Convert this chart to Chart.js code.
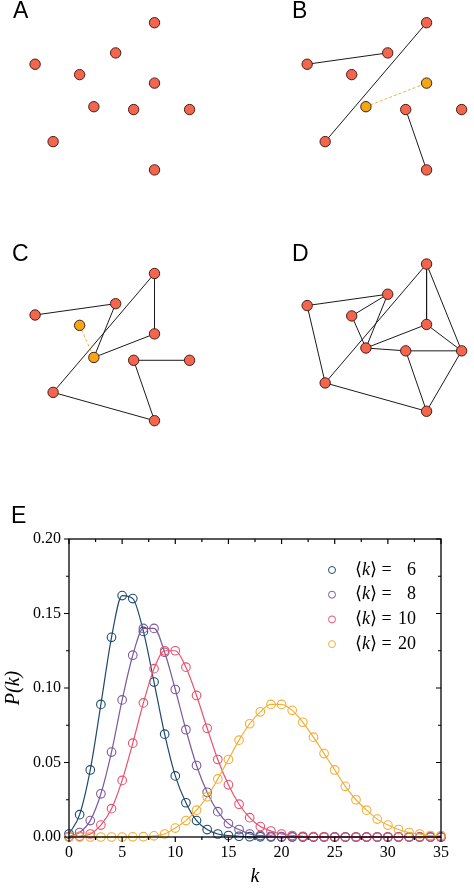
<!DOCTYPE html>
<html>
<head>
    <meta charset="utf-8">
    <script src="https://cdn.jsdelivr.net/npm/chart.js@4.4.0/dist/chart.umd.min.js"></script>
    <style>
        body { margin: 0; background: #fff; }
        #wrap { position: relative; width: 474px; height: 891px; overflow: hidden; }
        #wrap canvas { position: absolute; }
        .letter {
            position: absolute;
            font-family: "Liberation Sans", Arial, sans-serif;
            font-size: 23px;
            line-height: 23px;
            color: #000;
        }
    </style>
</head>
<body>
    <div id="wrap">
        <canvas id="netA" width="237" height="220" style="left:0;top:0"></canvas>
        <canvas id="netB" width="237" height="220" style="left:237px;top:0"></canvas>
        <canvas id="netC" width="237" height="220" style="left:0;top:230px"></canvas>
        <canvas id="netD" width="237" height="220" style="left:237px;top:230px"></canvas>
        <canvas id="dist" width="474" height="391" style="left:0;top:500px"></canvas>
        <div class="letter" style="left:13px;top:-1px">A</div>
        <div class="letter" style="left:292px;top:-1px">B</div>
        <div class="letter" style="left:12px;top:242px">C</div>
        <div class="letter" style="left:292px;top:242px">D</div>
        <div class="letter" style="left:11px;top:504px">E</div>
    </div>
    <script>
        // node layout (same for all four networks)
        const nodeX = [126, 85, 0, 47, 126, 62, 104, 163, 19, 126];
        const nodeY = [0, 32, 44, 55, 64, 89, 92, 92, 126, 156];

        const edgesB = [[2, 1], [0, 8], [6, 9]];
        const newEdgeB = [[5, 4]];
        const hotB = [4, 5];

        const edgesC = [[2, 1], [1, 5], [0, 4], [0, 8], [4, 5], [6, 7], [6, 9], [8, 9]];
        const newEdgeC = [[3, 5]];
        const hotC = [3, 5];

        const edgesD = [[2, 1], [2, 8], [3, 1], [3, 5], [1, 5], [0, 8], [0, 4], [0, 7],
                        [4, 5], [4, 7], [5, 6], [6, 7], [6, 9], [7, 9], [8, 9]];

        // degree distribution
        const kValues = [];
        for (let k = 0; k <= 35; k++) kValues.push(k);
        const p6 = [0.002, 0.015, 0.045, 0.089, 0.134, 0.162, 0.160, 0.138, 0.104, 0.069,
                    0.041, 0.023, 0.011, 0.005, 0.002, 0.001, 0.0005, 0.0002, 0.0001, 0,
                    0, 0, 0, 0, 0, 0, 0, 0, 0, 0, 0, 0, 0, 0, 0, 0];
        const p8 = [0.0003, 0.003, 0.011, 0.029, 0.057, 0.092, 0.122, 0.140, 0.140, 0.124,
                    0.099, 0.072, 0.048, 0.030, 0.017, 0.009, 0.005, 0.002, 0.001, 0.0005,
                    0.0002, 0.0001, 0, 0, 0, 0, 0, 0, 0, 0, 0, 0, 0, 0, 0, 0];
        const p10 = [0, 0.0005, 0.002, 0.008, 0.019, 0.038, 0.063, 0.090, 0.113, 0.125,
                     0.125, 0.114, 0.095, 0.073, 0.052, 0.035, 0.022, 0.013, 0.007, 0.004,
                     0.002, 0.001, 0.0005, 0.0002, 0.0001, 0, 0, 0, 0, 0, 0, 0, 0, 0, 0, 0];
        const p20 = [0, 0, 0, 0, 0, 0, 0.0001, 0.0002, 0.0008, 0.002,
                     0.006, 0.011, 0.018, 0.027, 0.039, 0.052, 0.065, 0.076, 0.084, 0.089,
                     0.089, 0.085, 0.077, 0.067, 0.056, 0.045, 0.034, 0.025, 0.018, 0.012,
                     0.008, 0.005, 0.003, 0.002, 0.001, 0.001];
        const seriesNames = ['6', '8', '10', '20'];
        const seriesColors = ['#1f4a6c', '#7a5a9c', '#e8506f', '#f4ad35'];
        const yTicks = [0, 0.05, 0.10, 0.15, 0.20];
        const xTicks = [0, 5, 10, 15, 20, 25, 30, 35];

        Chart.defaults.animation = false;

        function edgeSet(list, color, dash) {
            return list.map(function (e) {
                return {
                    data: [{ x: nodeX[e[0]], y: nodeY[e[0]] }, { x: nodeX[e[1]], y: nodeY[e[1]] }],
                    showLine: true,
                    borderColor: color,
                    borderWidth: 1,
                    borderDash: dash,
                    pointRadius: 0,
                    clip: false
                };
            });
        }

        function network(id, edges, newEdges, hot, xmin, ymin) {
            const nodes = nodeX.map(function (x, i) { return { x: x, y: nodeY[i] }; });
            const fills = nodeX.map(function (x, i) { return hot.indexOf(i) >= 0 ? '#f3a712' : '#f2654f'; });
            const datasets = [{
                data: nodes,
                pointRadius: 5.2,
                pointBackgroundColor: fills,
                pointBorderColor: '#4a1c12',
                pointBorderWidth: 1,
                clip: false
            }].concat(edgeSet(newEdges, '#f3b03a', [3, 2])).concat(edgeSet(edges, '#1a1a1a', []));
            new Chart(document.getElementById(id), {
                type: 'scatter',
                data: { datasets: datasets },
                options: {
                    responsive: false,
                    layout: { padding: 0 },
                    plugins: { legend: { display: false }, tooltip: { enabled: false } },
                    scales: {
                        x: { type: 'linear', display: false, min: xmin, max: xmin + 237 },
                        y: { type: 'linear', display: false, reverse: true, min: ymin, max: ymin + 220 }
                    }
                }
            });
        }

        network('netA', [], [], [], -30.5, -17.5);
        network('netB', edgesB, newEdgeB, hotB, -67.5, -17.5);
        network('netC', edgesC, newEdgeC, hotC, -30.5, -39.5);
        network('netD', edgesD, [], [], -67.5, -29.5);

        // frame, ticks on all sides and legend
        const framePlugin = {
            id: 'frame',
            afterDraw: function (chart) {
                const ctx = chart.ctx, a = chart.chartArea;
                const xs = chart.scales.x, ys = chart.scales.y;
                ctx.save();
                ctx.strokeStyle = '#000';
                ctx.lineWidth = 1.3;
                ctx.strokeRect(a.left, a.top, a.right - a.left, a.bottom - a.top);
                ctx.lineWidth = 1.2;
                ctx.beginPath();
                for (let v = 0; v <= 35; v += 2.5) {
                    const px = xs.getPixelForValue(v);
                    const len = v % 5 === 0 ? 5 : 3;
                    ctx.moveTo(px, a.bottom); ctx.lineTo(px, a.bottom + len);
                    ctx.moveTo(px, a.top); ctx.lineTo(px, a.top + len);
                }
                for (let i = 0; i <= 8; i++) {
                    const py = ys.getPixelForValue(i * 0.025);
                    const len = i % 2 === 0 ? 5 : 3;
                    ctx.moveTo(a.left, py); ctx.lineTo(a.left - len, py);
                    ctx.moveTo(a.right, py); ctx.lineTo(a.right - len, py);
                }
                ctx.stroke();

                // legend
                const serif = '"Liberation Serif", "DejaVu Serif", serif';
                for (let i = 0; i < seriesNames.length; i++) {
                    const y = a.top + 31 + i * 24.7;
                    ctx.strokeStyle = seriesColors[i];
                    ctx.lineWidth = 1;
                    ctx.beginPath();
                    ctx.arc(a.left + 263, y, 3.5, 0, Math.PI * 2);
                    ctx.stroke();
                    ctx.fillStyle = '#000';
                    ctx.textBaseline = 'middle';
                    ctx.textAlign = 'left';
                    let x = a.left + 286;
                    ctx.font = '18px ' + serif;
                    ctx.fillText('\u27E8', x, y);
                    x += ctx.measureText('\u27E8').width;
                    ctx.font = 'italic 18px ' + serif;
                    ctx.fillText('k', x, y);
                    x += ctx.measureText('k').width;
                    ctx.font = '18px ' + serif;
                    ctx.fillText('\u27E9 =', x, y);
                    ctx.textAlign = 'right';
                    ctx.fillText(seriesNames[i], a.left + 347, y);
                }
                ctx.restore();
            }
        };

        const series = [p6, p8, p10, p20];
        const distSets = series.map(function (vals, i) {
            return {
                label: '<k> = ' + seriesNames[i],
                data: kValues.map(function (k, j) { return { x: k, y: vals[j] }; }),
                showLine: true,
                borderColor: seriesColors[i],
                borderWidth: 1.2,
                cubicInterpolationMode: 'monotone',
                pointStyle: 'circle',
                pointRadius: 4.3,
                pointBorderWidth: 1.1,
                pointBorderColor: seriesColors[i],
                pointBackgroundColor: 'rgba(0,0,0,0)',
                clip: false
            };
        }).reverse();

        const serifFont = '"Liberation Serif", "Times New Roman", serif';
        new Chart(document.getElementById('dist'), {
            type: 'scatter',
            data: { datasets: distSets },
            options: {
                responsive: false,
                layout: { padding: { left: 0, right: 33, top: 39, bottom: 0 } },
                plugins: { legend: { display: false }, tooltip: { enabled: false } },
                scales: {
                    x: {
                        type: 'linear', min: 0, max: 35,
                        afterBuildTicks: function (s) { s.ticks = xTicks.map(function (v) { return { value: v }; }); },
                        ticks: { color: '#000', padding: 6, font: { family: serifFont, size: 16 } },
                        grid: { display: false, drawTicks: false },
                        border: { display: false },
                        title: { display: true, text: 'k', color: '#000', padding: { top: 2, bottom: 2 },
                                 font: { family: serifFont, size: 20, style: 'italic' } },
                        afterFit: function (s) { s.height = 54; }
                    },
                    y: {
                        type: 'linear', min: 0, max: 0.2,
                        afterBuildTicks: function (s) { s.ticks = yTicks.map(function (v) { return { value: v }; }); },
                        ticks: { color: '#000', padding: 8, font: { family: serifFont, size: 16 },
                                 callback: function (v) { return v.toFixed(2); } },
                        grid: { display: false, drawTicks: false },
                        border: { display: false },
                        title: { display: true, text: 'P(k)', color: '#000', padding: { top: 2, bottom: 0 },
                                 font: { family: serifFont, size: 20, style: 'italic' } },
                        afterFit: function (s) { s.width = 69; }
                    }
                }
            },
            plugins: [framePlugin]
        });
    </script>
</body>
</html>
